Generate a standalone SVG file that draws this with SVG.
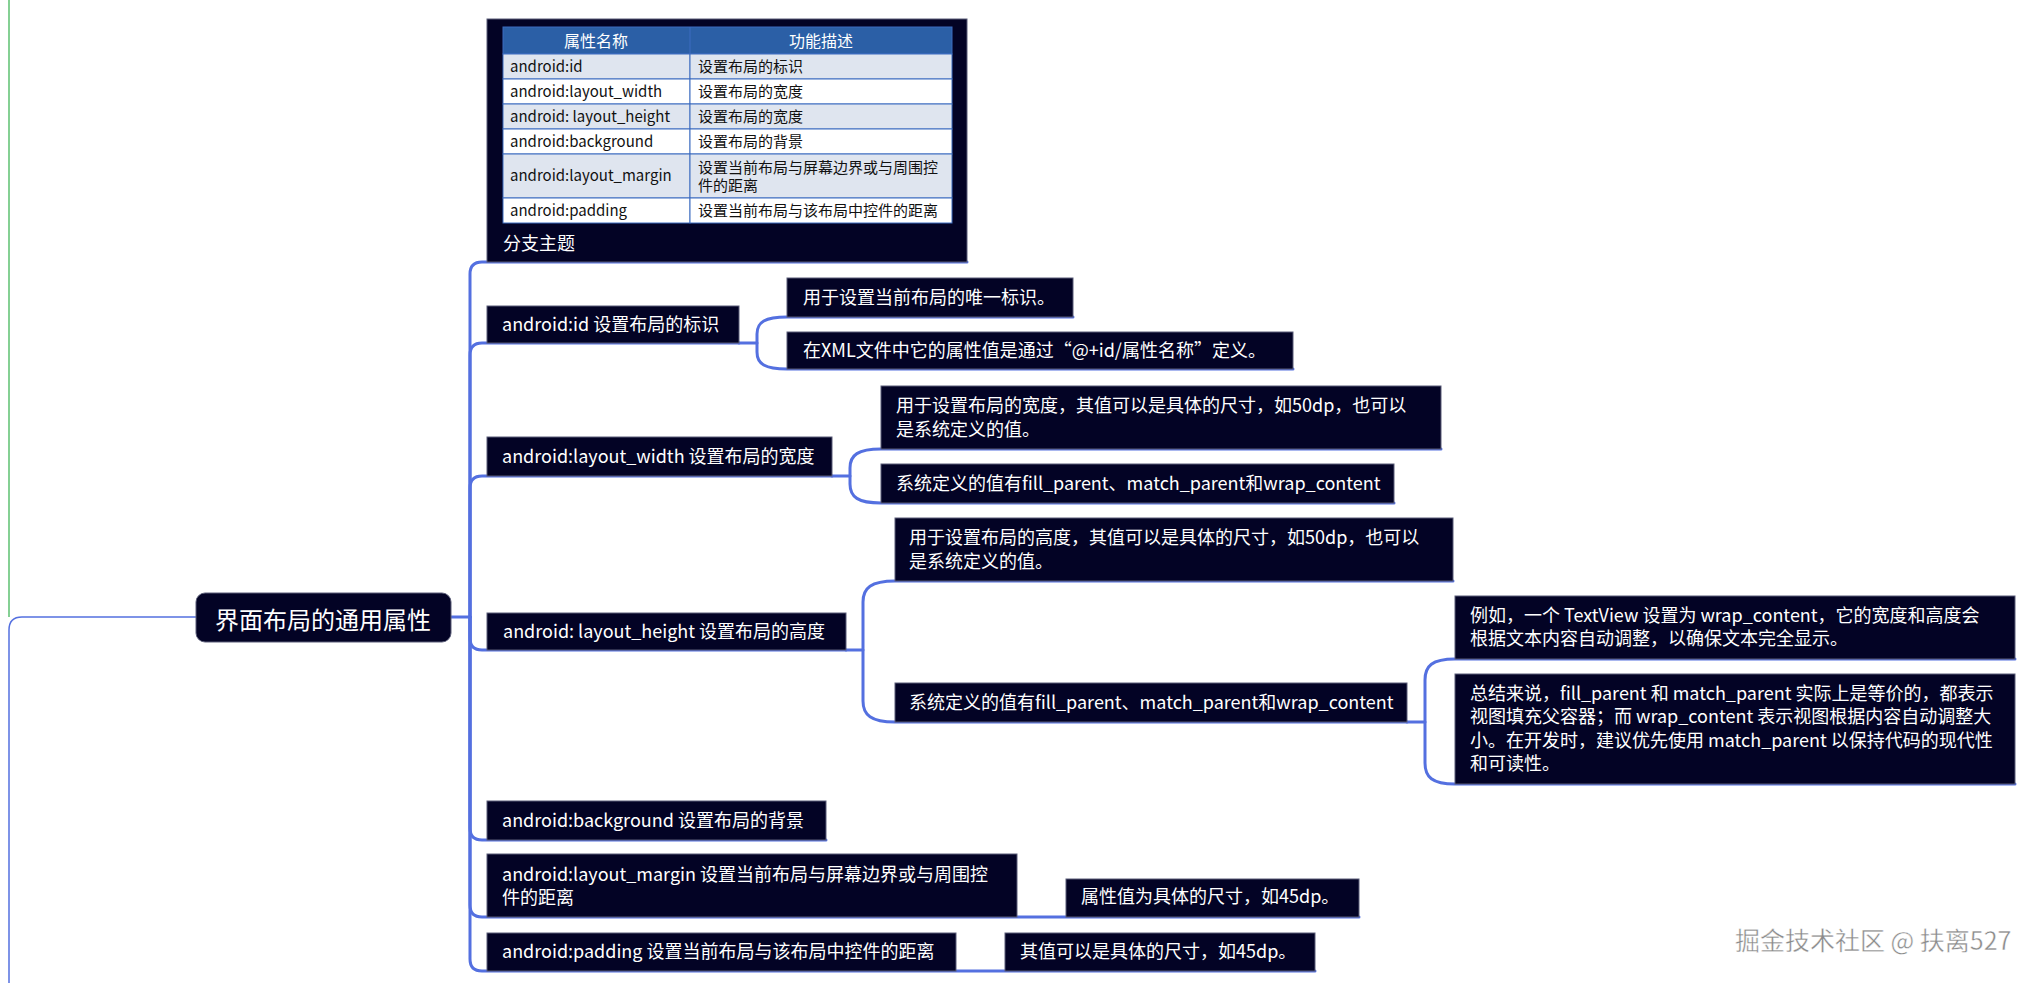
<svg xmlns="http://www.w3.org/2000/svg" width="2040" height="983" viewBox="0 0 2040 983">
<style>
  .box { fill: #030325; stroke: #5a5d78; stroke-width: 1; }
  .t { font-family: "Noto Sans CJK SC", "Noto Sans", "Liberation Sans", sans-serif; font-size: 18px; fill: #ffffff; }
  .tb { font-family: "Noto Sans CJK SC", "Noto Sans", "Liberation Sans", sans-serif; font-size: 15px; fill: #111111; }
  .th { font-family: "Noto Sans CJK SC", "Noto Sans", "Liberation Sans", sans-serif; font-size: 16px; fill: #ffffff; text-anchor: middle; }
  .c { fill: none; stroke: #5470e0; stroke-width: 3; stroke-linecap: round; stroke-linejoin: round; }
  .cl { fill: none; stroke: #5470e0; stroke-width: 1.5; }
  .rowA { fill: #dfe5ef; stroke: #3d6cc0; stroke-width: 1; }
  .rowB { fill: #ffffff; stroke: #3d6cc0; stroke-width: 1; }
</style>
<rect width="2040" height="983" fill="#ffffff"/>

<g id="connectors">
  <line x1="9" y1="0" x2="9" y2="617" stroke="#5cc070" stroke-width="1.5"/>
  <path class="cl" d="M 196 617 H 22 Q 9 617 9 630 V 983"/>
  <path class="c" d="M 451 617 H 470"/>
  <path class="c" d="M 470 617 V 274 Q 470 262 482 262 H 967"/>
  <path class="c" d="M 470 617 V 355 Q 470 343 482 343 H 739"/>
  <path class="c" d="M 470 617 V 488 Q 470 476 482 476 H 832"/>
  <path class="c" d="M 470 617 V 638 Q 470 650 482 650 H 846"/>
  <path class="c" d="M 470 617 V 828 Q 470 840 482 840 H 826"/>
  <path class="c" d="M 470 617 V 905 Q 470 917 482 917 H 1359"/>
  <path class="c" d="M 470 617 V 959 Q 470 971 482 971 H 1315"/>
  <!-- id children -->
  <path class="c" d="M 739 343 H 757"/>
  <path class="c" d="M 1073 317 H 787 C 765 317 757 322 757 334 V 352 C 757 364 765 369 787 369 H 1293"/>
  <!-- width children -->
  <path class="c" d="M 832 476 H 850"/>
  <path class="c" d="M 1441 449 H 881 C 858 449 850 455 850 468 V 484 C 850 497 858 503 881 503 H 1394"/>
  <!-- height children -->
  <path class="c" d="M 846 650 H 863"/>
  <path class="c" d="M 1453 581 H 895 C 871 581 863 588 863 602 V 701 C 863 715 871 722 895 722 H 1407"/>
  <!-- height child2 children -->
  <path class="c" d="M 1407 722 H 1425"/>
  <path class="c" d="M 2015 659 H 1455 C 1432 659 1425 666 1425 680 V 763 C 1425 777 1432 784 1455 784 H 2015"/>
</g>

<g id="root">
  <rect x="196" y="593" width="255" height="49" rx="9" fill="#030325" stroke="#5a5d78" stroke-width="1"/>
  <text x="323" y="629" text-anchor="middle" font-family="Noto Sans CJK SC, Noto Sans, sans-serif" font-size="24" fill="#ffffff">界面布局的通用属性</text>
</g>

<g id="node-table">
  <rect class="box" x="487" y="19" width="480" height="243"/>
  <rect x="503" y="27" width="449" height="27" fill="#2b5fa6" stroke="#3d6cc0" stroke-width="1"/>
  <line x1="690" y1="27" x2="690" y2="54" stroke="#3d6cc0" stroke-width="1"/>
  <text class="th" x="596" y="47">属性名称</text>
  <text class="th" x="821" y="47">功能描述</text>
  <rect class="rowA" x="503" y="54" width="187" height="25"/><rect class="rowA" x="690" y="54" width="262" height="25"/>
  <rect class="rowB" x="503" y="79" width="187" height="25"/><rect class="rowB" x="690" y="79" width="262" height="25"/>
  <rect class="rowA" x="503" y="104" width="187" height="25"/><rect class="rowA" x="690" y="104" width="262" height="25"/>
  <rect class="rowB" x="503" y="129" width="187" height="25"/><rect class="rowB" x="690" y="129" width="262" height="25"/>
  <rect class="rowA" x="503" y="154" width="187" height="44"/><rect class="rowA" x="690" y="154" width="262" height="44"/>
  <rect class="rowB" x="503" y="198" width="187" height="25"/><rect class="rowB" x="690" y="198" width="262" height="25"/>
  <text class="tb" x="510" y="72">android:id</text>
  <text class="tb" x="698" y="72">设置布局的标识</text>
  <text class="tb" x="510" y="97">android:layout_width</text>
  <text class="tb" x="698" y="97">设置布局的宽度</text>
  <text class="tb" x="510" y="122">android: layout_height</text>
  <text class="tb" x="698" y="122">设置布局的宽度</text>
  <text class="tb" x="510" y="147">android:background</text>
  <text class="tb" x="698" y="147">设置布局的背景</text>
  <text class="tb" x="510" y="181">android:layout_margin</text>
  <text class="tb" x="698" y="173">设置当前布局与屏幕边界或与周围控</text>
  <text class="tb" x="698" y="191">件的距离</text>
  <text class="tb" x="510" y="216">android:padding</text>
  <text class="tb" x="698" y="216">设置当前布局与该布局中控件的距离</text>
  <text class="t" x="503" y="250">分支主题</text>
</g>

<g id="node-id">
  <rect class="box" x="487" y="306" width="252" height="37"/>
  <text class="t" x="502" y="331">android:id 设置布局的标识</text>
</g>
<g id="node-id-1">
  <rect class="box" x="787" y="278" width="286" height="39"/>
  <text class="t" x="803" y="304">用于设置当前布局的唯一标识。</text>
</g>
<g id="node-id-2">
  <rect class="box" x="787" y="332" width="506" height="37"/>
  <text class="t" x="803" y="357">在XML文件中它的属性值是通过“@+id/属性名称”定义。</text>
</g>

<g id="node-width">
  <rect class="box" x="487" y="437" width="345" height="39"/>
  <text class="t" x="502" y="463">android:layout_width 设置布局的宽度</text>
</g>
<g id="node-width-1">
  <rect class="box" x="881" y="386" width="560" height="63"/>
  <text class="t" x="896" y="412">用于设置布局的宽度，其值可以是具体的尺寸，如50dp，也可以</text>
  <text class="t" x="896" y="436">是系统定义的值。</text>
</g>
<g id="node-width-2">
  <rect class="box" x="881" y="464" width="513" height="39"/>
  <text class="t" x="896" y="490">系统定义的值有fill_parent、match_parent和wrap_content</text>
</g>

<g id="node-height">
  <rect class="box" x="487" y="613" width="359" height="37"/>
  <text class="t" x="503" y="638">android: layout_height 设置布局的高度</text>
</g>
<g id="node-height-1">
  <rect class="box" x="895" y="518" width="558" height="63"/>
  <text class="t" x="909" y="544">用于设置布局的高度，其值可以是具体的尺寸，如50dp，也可以</text>
  <text class="t" x="909" y="568">是系统定义的值。</text>
</g>
<g id="node-height-2">
  <rect class="box" x="895" y="683" width="512" height="39"/>
  <text class="t" x="909" y="709">系统定义的值有fill_parent、match_parent和wrap_content</text>
</g>
<g id="node-height-2-1">
  <rect class="box" x="1455" y="596" width="560" height="63"/>
  <text class="t" x="1470" y="622">例如，一个 TextView 设置为 wrap_content，它的宽度和高度会</text>
  <text class="t" x="1470" y="645">根据文本内容自动调整，以确保文本完全显示。</text>
</g>
<g id="node-height-2-2">
  <rect class="box" x="1455" y="674" width="560" height="110"/>
  <text class="t" x="1470" y="700">总结来说，fill_parent 和 match_parent 实际上是等价的，都表示</text>
  <text class="t" x="1470" y="723">视图填充父容器；而 wrap_content 表示视图根据内容自动调整大</text>
  <text class="t" x="1470" y="747">小。在开发时，建议优先使用 match_parent 以保持代码的现代性</text>
  <text class="t" x="1470" y="770">和可读性。</text>
</g>

<g id="node-background">
  <rect class="box" x="487" y="801" width="339" height="39"/>
  <text class="t" x="502" y="827">android:background 设置布局的背景</text>
</g>

<g id="node-margin">
  <rect class="box" x="487" y="854" width="530" height="63"/>
  <text class="t" x="502" y="881">android:layout_margin 设置当前布局与屏幕边界或与周围控</text>
  <text class="t" x="502" y="904">件的距离</text>
</g>
<g id="node-margin-1">
  <rect class="box" x="1066" y="879" width="293" height="38"/>
  <text class="t" x="1081" y="903">属性值为具体的尺寸，如45dp。</text>
</g>

<g id="node-padding">
  <rect class="box" x="487" y="933" width="469" height="38"/>
  <text class="t" x="502" y="958">android:padding 设置当前布局与该布局中控件的距离</text>
</g>
<g id="node-padding-1">
  <rect class="box" x="1005" y="933" width="310" height="38"/>
  <text class="t" x="1020" y="958">其值可以是具体的尺寸，如45dp。</text>
</g>

<text x="1735" y="950" font-family="Noto Sans CJK SC, Noto Sans, sans-serif" font-size="25" fill="#8a8a8a" stroke="#ffffff" stroke-width="0.4">掘金技术社区 @ 扶离527</text>
</svg>
